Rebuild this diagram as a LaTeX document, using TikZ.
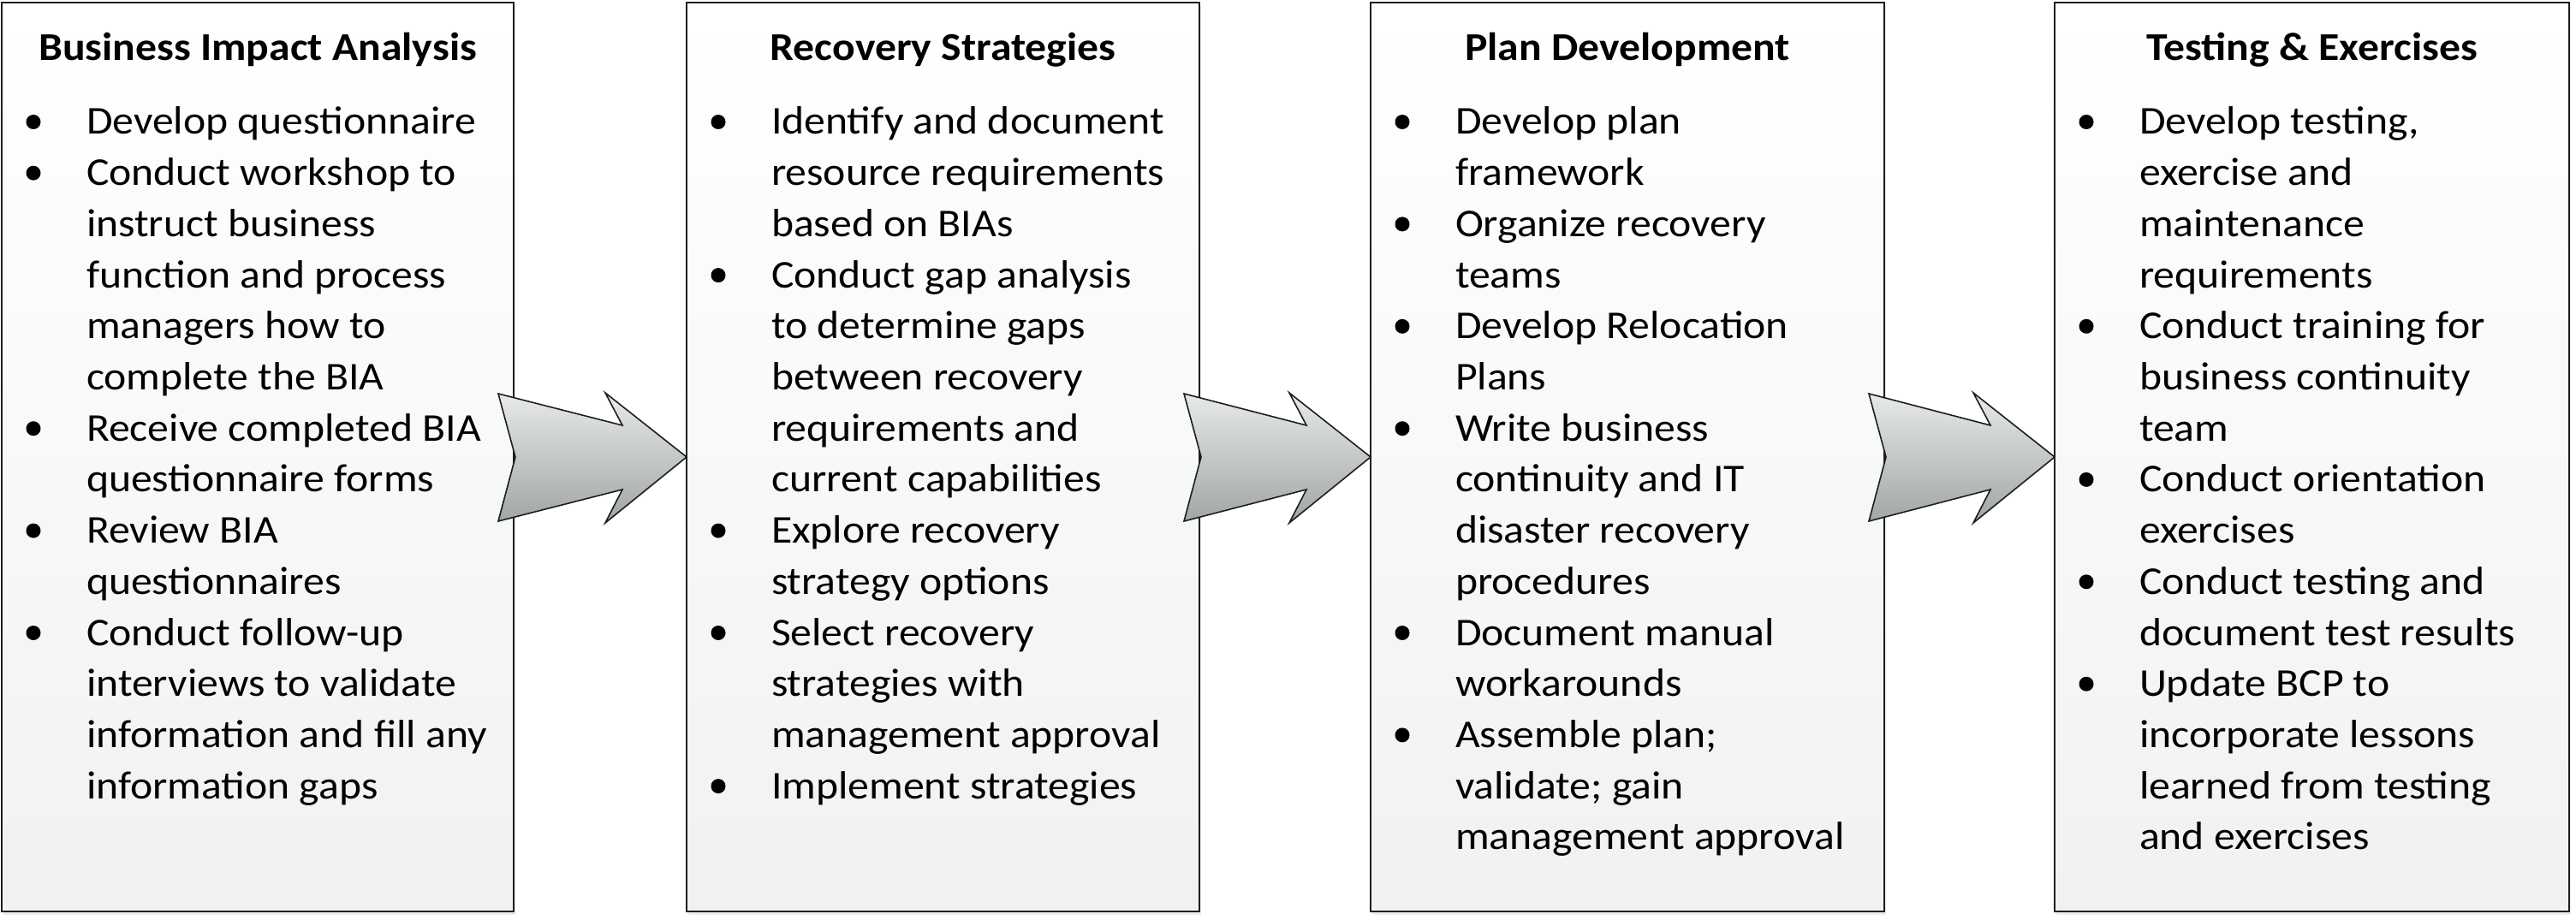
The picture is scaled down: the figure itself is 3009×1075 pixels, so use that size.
\documentclass[tikz,border=0pt]{standalone}
\usepackage{fontspec}
\setmainfont{Carlito}[FakeStretch=1.08]
\usetikzlibrary{calc,shadows}
\definecolor{boxbot}{HTML}{F0F2F2}
\definecolor{arrtop}{HTML}{E8EAEA}
\definecolor{arrbot}{HTML}{A0A5A5}
\definecolor{edge}{HTML}{1E1E1E}
\newcommand{\bodyfont}{\fontsize{46}{59.7}\selectfont}
\newcommand{\titlefont}{\fontsize{46}{59.7}\selectfont\bfseries}
\newcommand{\myitem}[4]{%
  \node[bdot] (#1d) at ($(#2.north west)+(37,{154-14.5+59.7*#3})$) {};
  \node[item] (#1) at ($(#2.north west)+(99,{154+59.7*#3})$) {\parbox[t]{560pt}{\bodyfont\raggedright #4}};
}
\newcommand{\myarrow}[3]{% name, from box, to box
  \coordinate (#1s) at ($(#2.east)+(-18,0)$);
  \coordinate (#1e) at (#3.west);
  \draw[blockarrow] ($(#1s)+(0,-74)$) -- ($(#1e)+(-75,-37)$) -- ($(#1e)+(-95,-75)$) -- (#1e)
    -- ($(#1e)+(-95,77)$) -- ($(#1e)+(-75,38)$) -- ($(#1s)+(0,75)$) -- ($(#1s)+(20,0)$) -- cycle;
}
\begin{document}
\begin{tikzpicture}[x=1pt,y=-1pt,
  box/.style={draw=edge, line width=2pt, top color=white, bottom color=boxbot,
    anchor=north west, inner sep=0, outer sep=0, minimum height=1062pt,
    drop shadow={shadow xshift=2pt, shadow yshift=-4pt, fill=black, opacity=0.07}},
  ttl/.style={anchor=base, inner sep=0, font=\titlefont},
  item/.style={anchor=base west, inner sep=0, outer sep=0},
  bdot/.style={circle, fill=black, draw=none, minimum size=17pt, inner sep=0},
  blockarrow/.style={draw=edge, line width=1.6pt, line join=miter, top color=arrtop, bottom color=arrbot}]
\useasboundingbox (0,0) rectangle (3009,1075);
\node[box, minimum width=598pt] (b1) at (2,3) {};
\node[box, minimum width=599pt] (b2) at (802,3) {};
\node[box, minimum width=600pt] (b3) at (1601,3) {};
\node[box, minimum width=601pt] (b4) at (2400,3) {};
\node[ttl] (t1) at ($(b1.north)+(0,67.6)$) {Business Impact Analysis};
\node[ttl] (t2) at ($(b2.north)+(0,67.6)$) {Recovery Strategies};
\node[ttl] (t3) at ($(b3.north)+(0,67.6)$) {Plan Development};
\node[ttl] (t4) at ($(b4.north)+(0,67.6)$) {Testing \& Exercises};
\myitem{b1i1}{b1}{0}{Develop questionnaire}
\myitem{b1i2}{b1}{1}{Conduct workshop to\\instruct business\\function and process\\managers how to\\complete the BIA}
\myitem{b1i3}{b1}{6}{Receive completed BIA\\questionnaire forms}
\myitem{b1i4}{b1}{8}{Review BIA\\questionnaires}
\myitem{b1i5}{b1}{10}{Conduct follow-up\\interviews to validate\\information and fill any\\information gaps}
\myitem{b2i1}{b2}{0}{Identify and document\\resource requirements\\based on BIAs}
\myitem{b2i2}{b2}{3}{Conduct gap analysis\\to determine gaps\\between recovery\\requirements and\\current capabilities}
\myitem{b2i3}{b2}{8}{Explore recovery\\strategy options}
\myitem{b2i4}{b2}{10}{Select recovery\\strategies with\\management approval}
\myitem{b2i5}{b2}{13}{Implement strategies}
\myitem{b3i1}{b3}{0}{Develop plan\\framework}
\myitem{b3i2}{b3}{2}{Organize recovery\\teams}
\myitem{b3i3}{b3}{4}{Develop Relocation\\Plans}
\myitem{b3i4}{b3}{6}{Write business\\continuity and IT\\disaster recovery\\procedures}
\myitem{b3i5}{b3}{10}{Document manual\\workarounds}
\myitem{b3i6}{b3}{12}{Assemble plan;\\validate; gain\\management approval}
\myitem{b4i1}{b4}{0}{Develop testing,\\exercise and\\maintenance\\requirements}
\myitem{b4i2}{b4}{4}{Conduct training for\\business continuity\\team}
\myitem{b4i3}{b4}{7}{Conduct orientation\\exercises}
\myitem{b4i4}{b4}{9}{Conduct testing and\\document test results}
\myitem{b4i5}{b4}{11}{Update BCP to\\incorporate lessons\\learned from testing\\and exercises}
\myarrow{a1}{b1}{b2}
\myarrow{a2}{b2}{b3}
\myarrow{a3}{b3}{b4}
\end{tikzpicture}
\end{document}
